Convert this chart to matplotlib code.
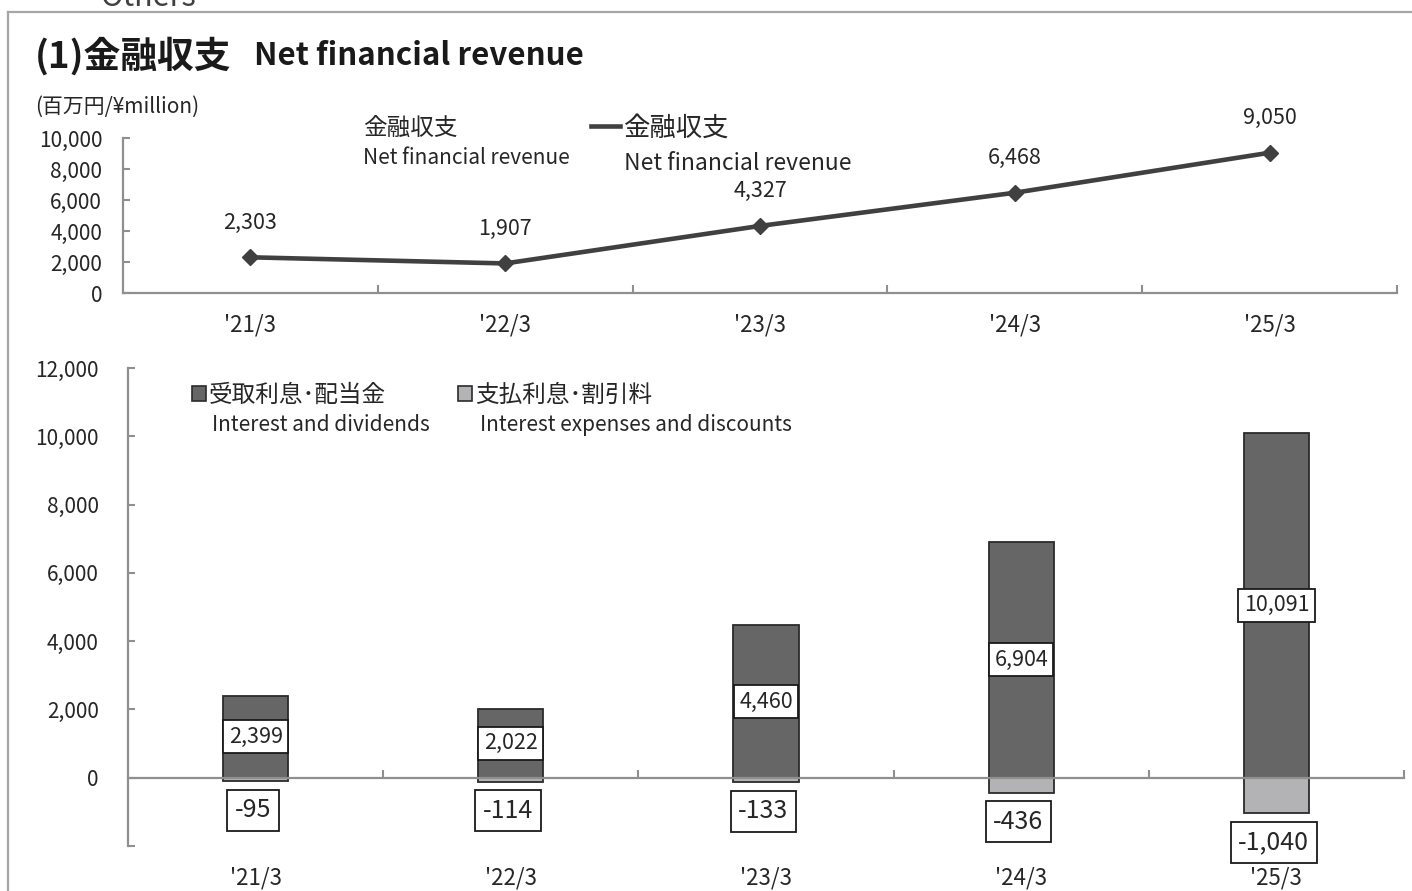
import matplotlib
matplotlib.use("Agg")
import matplotlib.pyplot as plt
from matplotlib.lines import Line2D
from matplotlib.patches import Patch

plt.rcParams['font.family'] = ['Noto Sans CJK JP', 'DejaVu Sans']

# データ (百万円)
periods = ["'21/3", "'22/3", "'23/3", "'24/3", "'25/3"]
net_revenue = [2303, 1907, 4327, 6468, 9050]
interest_dividends = [2399, 2022, 4460, 6904, 10091]
interest_expenses = [-95, -114, -133, -436, -1040]

TXT = '#262626'
AXC = '#8f8f8f'
x = range(len(periods))

fig = plt.figure(figsize=(14.12, 8.91), dpi=100)

# 外枠
fig.add_artist(Line2D([8 / 1412, 1], [1 - 12 / 891] * 2, color='#a6a6a6', lw=1.6))
fig.add_artist(Line2D([8 / 1412] * 2, [0, 1 - 12 / 891], color='#a6a6a6', lw=1.6))
fig.text(100 / 1412, 1 - 6 / 891, "Others", fontsize=22, color='#404040', va='baseline')

# タイトル
fig.text(35 / 1412, 1 - 56 / 891, "(1)金融収支", fontsize=26.5,
         fontweight='bold', color='#1a1a1a', va='center')
fig.text(254 / 1412, 1 - 56 / 891, "Net financial revenue", fontsize=22.5,
         fontweight='bold', color='#1a1a1a', va='center')
fig.text(35 / 1412, 1 - 107 / 891, "(百万円/¥million)", fontsize=15, color=TXT, va='center')

# ---- 上段: 金融収支の折れ線 ----
ax1 = fig.add_axes([123 / 1412, 1 - 293 / 891, 1274 / 1412, 155 / 891])
ax1.plot(x, net_revenue, color='#404040', lw=3.3, marker='D', ms=8, zorder=3)
for i, v in enumerate(net_revenue):
    ax1.annotate(f"{v:,}", (i, v), xytext=(0, 25), textcoords='offset points',
                 ha='center', va='center', fontsize=15.5, color=TXT, annotation_clip=False)
ax1.set_xlim(-0.5, len(periods) - 0.5)
ax1.set_ylim(0, 10000)
ax1.set_yticks(range(0, 10001, 2000))
ax1.set_yticklabels([f"{v:,}" for v in range(0, 10001, 2000)])
ax1.set_xticks([i + 0.5 for i in x])
ax1.set_xticklabels([])
ax1.set_xticks(list(x), minor=True)
ax1.set_xticklabels(periods, minor=True)
ax1.tick_params(axis='x', which='major', direction='in', length=6, width=1.5, color=AXC)
ax1.tick_params(axis='x', which='minor', length=0, pad=15, labelsize=16, labelcolor=TXT)
ax1.tick_params(axis='y', direction='in', length=5, width=1.5, color=AXC, pad=15,
                labelsize=15, labelcolor=TXT)
for s in ['top', 'right']:
    ax1.spines[s].set_visible(False)
for s in ['left', 'bottom']:
    ax1.spines[s].set_color(AXC)
    ax1.spines[s].set_linewidth(1.6)
ax1.patch.set_alpha(0)

fig.text(363 / 1412, 1 - 128 / 891, "金融収支", fontsize=17, color=TXT, va='center')
fig.text(363 / 1412, 1 - 158 / 891, "Net financial revenue", fontsize=15, color=TXT, va='center')
fig.legend(handles=[Line2D([0], [0], color='#404040', lw=3.3)], labels=["金融収支"],
           loc='center left', bbox_to_anchor=(591 / 1412, 1 - 128 / 891), frameon=False,
           fontsize=19, handlelength=1.1, handletextpad=0.1, borderpad=0, borderaxespad=0,
           labelcolor=TXT)
fig.text(624 / 1412, 1 - 163 / 891, "Net financial revenue", fontsize=16.5, color=TXT, va='center')

# ---- 下段: 受取利息・支払利息の棒グラフ ----
ax2 = fig.add_axes([128 / 1412, 1 - 846 / 891, 1276 / 1412, 478 / 891])
bw = 0.255
ax2.bar(x, interest_dividends, width=bw, color='#666666', edgecolor='#2b2b2b', lw=1.3, zorder=2)
ax2.bar(x, interest_expenses, width=bw, color='#b3b3b5', edgecolor='#2b2b2b', lw=1.3, zorder=2)
box = dict(boxstyle='square,pad=0.25', fc='white', ec='#1a1a1a', lw=1.3)
for i, v in enumerate(interest_dividends):
    ax2.text(i, v / 2, f"{v:,}", ha='center', va='center', fontsize=15.5, color=TXT,
             bbox=box, zorder=4)
for i, v in enumerate(interest_expenses):
    ax2.annotate(f"{v:,}", (i, v), xytext=(-2, -21), textcoords='offset points',
                 ha='center', va='center', fontsize=18, color=TXT, zorder=4,
                 bbox=dict(boxstyle='square,pad=0.3', fc='white', ec='#1a1a1a', lw=1.3))
ax2.set_xlim(-0.5, len(periods) - 0.5)
ax2.set_ylim(-2000, 12000)
ax2.set_yticks(range(-2000, 12001, 2000))
ax2.set_yticklabels([""] + [f"{v:,}" for v in range(0, 12001, 2000)])
ax2.tick_params(axis='y', direction='in', length=5, width=1.5, color=AXC, pad=21,
                labelsize=15, labelcolor=TXT)
ax2.spines['bottom'].set_position(('data', 0))
ax2.set_xticks([i + 0.5 for i in x])
ax2.set_xticklabels([])
ax2.tick_params(axis='x', direction='in', length=6, width=1.5, color=AXC)
for s in ['top', 'right']:
    ax2.spines[s].set_visible(False)
for s in ['left', 'bottom']:
    ax2.spines[s].set_color(AXC)
    ax2.spines[s].set_linewidth(1.6)
ax2.spines['bottom'].set_zorder(3)
sec = ax2.secondary_xaxis('bottom')
sec.set_xticks(list(x))
sec.set_xticklabels(periods)
sec.tick_params(length=0, pad=15, labelsize=16, labelcolor=TXT)
sec.spines['bottom'].set_visible(False)
ax2.patch.set_alpha(0)

fig.legend(handles=[Patch(fc='#666666', ec='#2b2b2b', lw=1.2),
                    Patch(fc='#b3b3b5', ec='#2b2b2b', lw=1.2)],
           labels=["受取利息･配当金", "支払利息･割引料"], ncol=2,
           loc='center left', bbox_to_anchor=(192 / 1412, 1 - 395 / 891), frameon=False,
           fontsize=17, handlelength=0.6, handleheight=0.6, handletextpad=0.12,
           columnspacing=3.05, borderpad=0, borderaxespad=0, labelcolor=TXT)
fig.text(212 / 1412, 1 - 425 / 891, "Interest and dividends", fontsize=15, color=TXT, va='center')
fig.text(480 / 1412, 1 - 425 / 891, "Interest expenses and discounts", fontsize=15, color=TXT, va='center')

fig.savefig("out.png", dpi=100)
